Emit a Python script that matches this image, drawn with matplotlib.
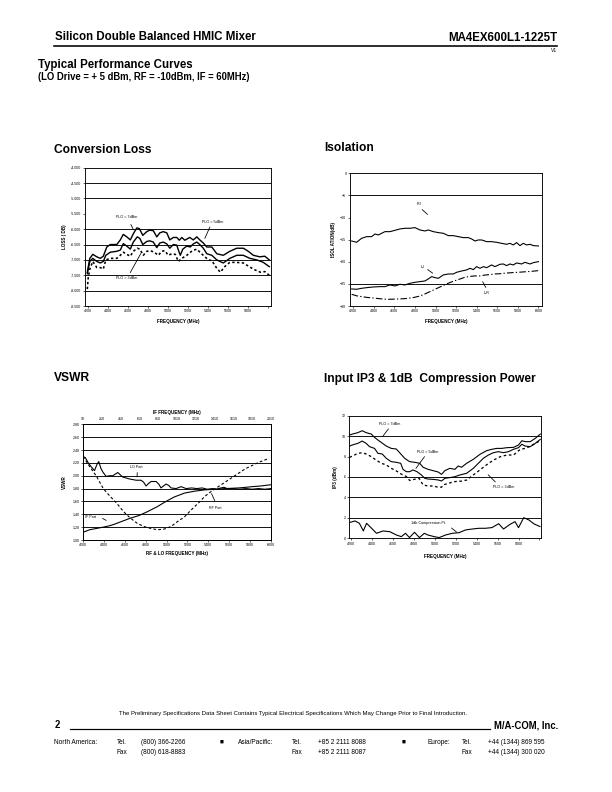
import numpy as np
import matplotlib.pyplot as plt
from matplotlib.lines import Line2D

plt.rcParams['font.family'] = ['Liberation Sans', 'DejaVu Sans']

# ---- Conversion loss (dB) ----
cl_f7 = [4190, 4215, 4245, 4285, 4320, 4350, 4385, 4420, 4485, 4520, 4550, 4585, 4620, 4650, 4685,
         4710, 4745, 4785, 4815, 4850, 4885, 4915, 4950, 4985, 5015, 5050, 5085, 5110, 5135, 5165,
         5215, 5250, 5285, 5315, 5350, 5385, 5435, 5485, 5550, 5615, 5685, 5750, 5800, 5850, 5915,
         5965, 6010]
cl_7 = [-7.40, -6.95, -6.82, -6.90, -6.95, -6.88, -6.58, -6.50, -6.50, -6.35, -6.17, -6.25, -6.35,
        -6.15, -5.96, -5.98, -6.20, -6.08, -6.03, -6.05, -6.25, -6.12, -6.08, -6.12, -6.35, -6.27,
        -6.27, -6.36, -6.27, -6.36, -6.27, -6.35, -6.25, -6.35, -6.45, -6.58, -6.58, -6.80, -6.85,
        -6.72, -6.62, -6.62, -6.72, -6.85, -6.90, -6.88, -7.00]
cl_f5 = [4190, 4215, 4245, 4285, 4320, 4350, 4375, 4420, 4485, 4520, 4550, 4585, 4620, 4650, 4690,
         4715, 4745, 4785, 4815, 4850, 4885, 4915, 4950, 4985, 5015, 5050, 5085, 5105, 5120, 5145,
         5185, 5220, 5250, 5285, 5315, 5350, 5385, 5435, 5485, 5550, 5615, 5685, 5750, 5815, 5885,
         5950, 6010]
cl_5 = [-7.45, -7.05, -6.95, -7.05, -7.10, -7.05, -6.85, -6.75, -6.72, -6.68, -6.47, -6.55, -6.65,
        -6.42, -6.25, -6.30, -6.50, -6.40, -6.38, -6.42, -6.60, -6.45, -6.42, -6.48, -6.62, -6.50,
        -6.52, -6.72, -6.85, -6.65, -6.55, -6.58, -6.48, -6.42, -6.50, -6.62, -6.80, -6.85, -7.00,
        -7.10, -6.95, -6.85, -6.85, -6.95, -7.00, -7.08, -7.22]
cl_f3 = [4190, 4200, 4215, 4245, 4285, 4320, 4350, 4375, 4420, 4485, 4520, 4550, 4585, 4620, 4650,
         4690, 4715, 4750, 4785, 4820, 4860, 4900, 4935, 4965, 5000, 5035, 5070, 5100, 5135, 5185,
         5240, 5285, 5325, 5360, 5400, 5435, 5480, 5520, 5570, 5615, 5680, 5750, 5800, 5850, 5920,
         5965, 6010]
cl_3 = [-7.95, -7.55, -7.30, -7.05, -7.25, -7.25, -7.30, -7.00, -6.95, -6.95, -6.85, -6.75, -6.82,
        -6.88, -6.72, -6.62, -6.65, -6.85, -6.72, -6.70, -6.75, -6.85, -6.72, -6.70, -6.85, -6.80,
        -6.82, -7.05, -6.95, -6.85, -6.70, -6.65, -6.78, -6.88, -7.00, -7.02, -7.25, -7.40, -7.20,
        -7.08, -7.08, -7.10, -7.20, -7.30, -7.40, -7.38, -7.50]

# ---- Isolation (dB) ----
iso_f_ri = [4184, 4232, 4281, 4330, 4378, 4411, 4443, 4476, 4508, 4557, 4605, 4654, 4702, 4751, 4800,
            4848, 4897, 4929, 4978, 5027, 5075, 5124, 5172, 5221, 5270, 5318, 5351, 5383, 5416, 5448,
            5497, 5545, 5594, 5642, 5691, 5723, 5756, 5788, 5821, 5853, 5886, 5918, 5951, 6000]
iso_ri = [-15.30, -15.60, -14.69, -14.32, -14.32, -13.72, -13.94, -13.56, -13.19, -13.19, -12.89,
          -12.58, -12.43, -12.43, -12.28, -12.81, -13.04, -12.81, -13.19, -13.41, -13.56, -14.09,
          -14.09, -14.32, -14.54, -14.54, -14.85, -15.30, -15.07, -15.07, -15.45, -15.45, -15.60,
          -15.83, -16.05, -15.83, -16.20, -15.67, -16.35, -15.83, -16.20, -16.05, -16.35, -16.43]
iso_f_li = [4184, 4232, 4281, 4330, 4394, 4459, 4508, 4557, 4605, 4654, 4702, 4751, 4800, 4848, 4897,
            4929, 4962, 4994, 5027, 5075, 5124, 5172, 5205, 5254, 5302, 5335, 5367, 5399, 5432, 5464,
            5497, 5545, 5578, 5626, 5659, 5691, 5723, 5756, 5788, 5837, 5869, 5918, 5951, 6000]
iso_li = [-26.15, -26.22, -26.00, -25.85, -25.70, -25.62, -25.62, -25.24, -25.47, -25.09, -25.24,
          -24.87, -24.64, -24.49, -24.34, -23.89, -23.36, -23.59, -23.74, -22.98, -22.76, -22.76,
          -22.38, -22.08, -21.85, -21.48, -21.78, -21.10, -21.48, -21.10, -21.33, -20.72, -21.10,
          -20.57, -20.50, -20.87, -20.50, -20.72, -20.27, -20.50, -20.12, -20.50, -20.20, -19.97]
iso_f_lr = [4184, 4232, 4281, 4330, 4394, 4459, 4524, 4589, 4654, 4719, 4783, 4848, 4913, 4978, 5043,
            5108, 5172, 5237, 5286, 5335, 5383, 5432, 5480, 5530, 5580, 5630, 5690, 5750, 5820, 5880,
            5940, 6000]
iso_lr = [-27.35, -27.70, -27.88, -28.05, -28.20, -28.35, -28.50, -28.45, -28.40, -28.30, -28.10,
          -27.75, -27.10, -26.40, -25.70, -25.00, -24.40, -23.90, -23.50, -23.30, -23.20, -23.20,
          -23.00, -22.90, -22.75, -22.70, -22.55, -22.45, -22.35, -22.25, -22.15, -22.00]

# ---- VSWR ----
vs_f_lo = [4200, 4223, 4250, 4278, 4310, 4335, 4351, 4370, 4389, 4421, 4455, 4485, 4533, 4580, 4644,
           4708, 4756, 4780, 4804, 4828, 4852, 4900, 4925, 4947, 4970, 4995, 5020, 5043, 5091, 5139,
           5187, 5240, 5290, 5340, 5390, 5440, 5480, 5520, 5550, 5580, 5640, 5700, 5760, 5820, 5880,
           5940, 6000]
vs_lo = [2.30, 2.28, 2.20, 2.14, 2.08, 2.18, 2.22, 2.12, 2.06, 1.99, 2.00, 2.00, 2.05, 1.98, 1.95,
         1.93, 1.93, 1.90, 1.84, 1.88, 1.91, 1.91, 1.87, 1.81, 1.84, 1.87, 1.85, 1.81, 1.80, 1.83,
         1.80, 1.81, 1.80, 1.81, 1.79, 1.80, 1.79, 1.81, 1.82, 1.80, 1.80, 1.79, 1.80, 1.79, 1.80,
         1.79, 1.80]
vs_f_rf = [4200, 4265, 4330, 4394, 4459, 4524, 4589, 4654, 4719, 4783, 4848, 4913, 4978, 5043, 5108,
           5172, 5237, 5302, 5367, 5432, 5496, 5561, 5626, 5691, 5756, 5821, 5885, 5966]
vs_rf = [2.30, 2.14, 1.99, 1.80, 1.68, 1.57, 1.44, 1.34, 1.26, 1.21, 1.18, 1.16, 1.17, 1.21, 1.29,
         1.36, 1.47, 1.57, 1.68, 1.76, 1.83, 1.90, 1.97, 2.04, 2.11, 2.16, 2.21, 2.26]
vs_f_if = [4200, 4265, 4330, 4394, 4450, 4492, 4573, 4654, 4735, 4816, 4913, 4994, 5075, 5172, 5270,
           5367, 5464, 5560, 5691, 5760, 5821, 5900, 5950, 6000]
vs_if = [1.12, 1.16, 1.18, 1.20, 1.22, 1.24, 1.29, 1.34, 1.38, 1.44, 1.52, 1.60, 1.67, 1.73, 1.76,
         1.78, 1.79, 1.80, 1.81, 1.82, 1.83, 1.84, 1.85, 1.86]

# ---- Input IP3 and 1 dB compression (dBm) ----
ip_f7 = [4185, 4216, 4264, 4306, 4344, 4392, 4424, 4456, 4488, 4536, 4584, 4632, 4664, 4712, 4760,
         4808, 4856, 4888, 4936, 4984, 5032, 5064, 5096, 5144, 5192, 5224, 5256, 5304, 5368, 5432,
         5496, 5544, 5592, 5640, 5688, 5752, 5800, 5832, 5864, 5912, 5960, 6008]
ip_7 = [10.11, 10.21, 10.34, 10.53, 10.34, 10.21, 9.88, 9.62, 9.39, 9.03, 8.80, 8.74, 8.38, 7.83,
        7.50, 7.44, 7.34, 6.95, 6.75, 6.62, 6.49, 6.26, 6.62, 6.85, 6.75, 7.08, 6.95, 7.34, 7.73,
        8.22, 8.58, 8.71, 8.80, 8.80, 8.87, 8.90, 9.13, 9.55, 9.46, 9.46, 9.78, 10.20]
ip_f5 = [4185, 4232, 4264, 4306, 4344, 4376, 4424, 4456, 4498, 4536, 4584, 4632, 4674, 4696, 4728,
         4760, 4792, 4830, 4872, 4904, 4936, 4984, 5032, 5064, 5096, 5144, 5192, 5240, 5304, 5368,
         5416, 5464, 5512, 5560, 5608, 5656, 5704, 5752, 5800, 5832, 5864, 5912, 5960, 6008]
ip_5 = [9.03, 9.20, 9.29, 9.52, 9.29, 8.97, 8.80, 8.32, 8.25, 7.83, 7.50, 7.44, 7.34, 6.75, 6.52,
        6.52, 6.69, 6.52, 6.20, 5.87, 5.80, 5.77, 5.71, 5.61, 5.87, 5.94, 6.03, 6.20, 6.36, 6.85,
        7.34, 7.83, 8.15, 8.38, 8.48, 8.38, 8.48, 8.71, 8.87, 9.20, 9.03, 8.97, 9.29, 9.68]
ip_f3 = [4185, 4232, 4264, 4306, 4344, 4392, 4440, 4488, 4536, 4584, 4632, 4680, 4728, 4760, 4808,
         4850, 4888, 4936, 4984, 5032, 5064, 5080, 5128, 5192, 5256, 5304, 5368, 5432, 5496, 5560,
         5624, 5688, 5752, 5816, 5864, 5912, 5960, 6008]
ip_3 = [7.92, 8.15, 8.31, 8.38, 8.25, 8.00, 7.65, 7.35, 7.18, 6.85, 6.60, 6.28, 6.05, 5.66, 5.78,
        5.87, 5.22, 5.12, 5.12, 5.00, 5.00, 5.22, 5.38, 5.55, 5.60, 5.70, 6.20, 6.70, 7.20, 7.65,
        7.98, 8.15, 8.15, 8.70, 8.80, 9.00, 9.30, 9.55]
cp_f = [4190, 4238, 4279, 4317, 4348, 4396, 4443, 4506, 4569, 4632, 4680, 4720, 4758, 4806, 4853,
        4900, 4932, 4995, 5042, 5105, 5168, 5232, 5295, 5358, 5421, 5484, 5547, 5610, 5657, 5720,
        5767, 5800, 5850, 5900, 5950, 6005]
cp_1db = [1.56, 1.70, 1.47, 0.72, 1.47, 0.98, 0.49, 0.72, 0.65, 0.33, 0.16, 0.49, 0.07, 0.59, 0.07,
          0.49, 0.33, 0.16, 0.07, 0.33, 0.49, 0.55, 0.82, 0.91, 0.98, 0.98, 1.05, 1.43, 0.91, 1.37,
          1.63, 1.04, 2.02, 1.79, 1.40, 1.15]

freq_ticks = list(range(4200, 6001, 200))

fig = plt.figure(figsize=(8.5, 11), dpi=72)


def px_axes(left, top, right, bottom):
    return fig.add_axes([left / 612, 1 - bottom / 792, (right - left) / 612, (bottom - top) / 792])


def ftext(x, y, s, **kw):
    fig.text(x / 612, 1 - y / 792, s, **kw)


def fline(x0, x1, y, lw):
    fig.add_artist(Line2D([x0 / 612, x1 / 612], [1 - y / 792] * 2, lw=lw, color='black'))


def style(ax):
    for sp in ax.spines.values():
        sp.set_linewidth(0.9)
    ax.tick_params(labelsize=3.6, length=2, width=0.6, pad=1.5, direction='out')


def leader(ax, p0, p1):
    ax.annotate('', xy=p1, xytext=p0, arrowprops=dict(arrowstyle='-', lw=0.8, color='black'))


small = dict(fontsize=3.8, ha='center', va='center')
lab = dict(fontsize=4.6, weight='bold')

# header
ftext(55, 37, 'Silicon Double Balanced HMIC Mixer', fontsize=11.5, weight='bold', va='center')
ftext(557, 38, 'MA4EX600L1-1225T', fontsize=11.5, weight='bold', va='center', ha='right')
fline(54, 557, 45.5, 1.6)
ftext(557, 51, 'V1', fontsize=5, ha='right', va='center')
ftext(38, 65, 'Typical Performance Curves', fontsize=11.5, weight='bold', va='center')
ftext(38, 77, '(LO Drive = + 5 dBm, RF = -10dBm, IF = 60MHz)', fontsize=9.5, weight='bold', va='center')

# chart titles
ftext(54, 150, 'Conversion Loss', fontsize=12, weight='bold', va='center')
ftext(324, 148, 'Isolation', fontsize=12, weight='bold', va='center')
ftext(54, 378, 'VSWR', fontsize=12, weight='bold', va='center')
ftext(324, 379, 'Input IP3 & 1dB  Compression Power', fontsize=12, weight='bold', va='center')

# ---- Conversion Loss ----
ax1 = px_axes(85, 167.7, 271, 306)
ax1.plot(cl_f7, cl_7, color='black', lw=1.4)
ax1.plot(cl_f5, cl_5, color='black', lw=1.4)
ax1.plot(cl_f3, cl_3, color='black', lw=1.6, ls=(0, (1.5, 1.5)))
for g in [-4.5, -5.0, -6.0, -6.5, -7.0, -7.5, -8.0]:
    ax1.axhline(g, color='black', lw=0.9)
ax1.set_xlim(4167, 6027)
ax1.set_ylim(-8.5, -4.0)
ax1.set_yticks(np.arange(-8.5, -3.99, 0.5))
ax1.set_yticklabels(['%.3f' % v for v in np.arange(-8.5, -3.99, 0.5)])
ax1.set_xticks(freq_ticks)
ax1.set_xticklabels([str(f) if f < 6000 else '' for f in freq_ticks])
style(ax1)
ax1.set_xlabel('FREQUENCY (MHz)', labelpad=6, **lab)
ax1.set_ylabel('LOSS ( DB)', labelpad=4, **lab)
ax1.text(4584, -5.62, 'PLO = 7dBm', **small)
leader(ax1, (4617, -5.79), (4660, -6.08))
ax1.text(5440, -5.77, 'PLO = 5dBm', **small)
leader(ax1, (5424, -5.87), (5357, -6.36))
ax1.text(4584, -7.60, 'PLO = 3dBm', **small)
leader(ax1, (4610, -7.47), (4734, -6.74))

# ---- Isolation ----
ax2 = px_axes(350, 173.3, 541.7, 306)
ax2.plot(iso_f_ri, iso_ri, color='black', lw=1.1)
ax2.plot(iso_f_li, iso_li, color='black', lw=1.1)
ax2.plot(iso_f_lr, iso_lr, color='black', lw=1.1, ls=(0, (6, 2, 1.2, 2)))
for g in [-5, -25]:
    ax2.axhline(g, color='black', lw=0.9)
ax2.set_xlim(4168, 6032)
ax2.set_ylim(-30, 0)
ax2.set_yticks(range(-30, 1, 5))
ax2.set_xticks(freq_ticks)
style(ax2)
ax2.set_xlabel('FREQUENCY (MHz)', labelpad=6, **lab)
ax2.set_ylabel('ISOL ATION(dB)', labelpad=4, **lab)
ax2.text(4839, -7.0, 'R-I', **small)
leader(ax2, (4855, -7.9), (4936, -9.6))
ax2.text(4875, -21.1, 'L-I', **small)
leader(ax2, (4907, -21.5), (4988, -22.85))
ax2.text(5497, -27.0, 'L-R', **small)
leader(ax2, (5497, -26.2), (5449, -24.1))

# ---- VSWR ----
ax3 = px_axes(83, 424.3, 271, 540)
ax3.plot(vs_f_lo, vs_lo, color='black', lw=1.1)
ax3.plot(vs_f_if, vs_if, color='black', lw=1.1)
ax3.plot(vs_f_rf, vs_rf, color='black', lw=1.1, ls=(0, (2.5, 2)))
for g in np.arange(1.2, 2.61, 0.2):
    ax3.axhline(g, color='black', lw=0.9)
ax3.set_xlim(4200, 6000)
ax3.set_ylim(1.0, 2.8)
vs_ticks = np.arange(1.0, 2.81, 0.2)
ax3.set_yticks(vs_ticks)
ax3.set_yticklabels(['%.2f' % v for v in vs_ticks])
ax3.set_xticks(freq_ticks)
style(ax3)
ax3.set_xlabel('RF & LO FREQUENCY (MHz)', labelpad=4, **lab)
ax3.set_ylabel('VSWR', labelpad=6, **lab)
top = ax3.twiny()
top.set_xlim(10, 2010)
top.set_xticks(range(10, 2011, 200))
style(top)
top.tick_params(length=0, pad=3)
top.set_xlabel('IF FREQUENCY (MHz)', labelpad=3, **lab)
ax3.text(4714, 2.14, 'LO Port', **small)
leader(ax3, (4720, 2.08), (4717, 1.95))
ax3.text(5470, 1.50, 'RF Port', **small)
leader(ax3, (5470, 1.58), (5423, 1.75))
ax3.text(4274, 1.36, 'IF Port', **small)
leader(ax3, (4370, 1.35), (4440, 1.29))

# ---- Input IP3 ----
ax4 = px_axes(349, 415.7, 541, 538.3)
ax4.plot(ip_f7, ip_7, color='black', lw=1.1)
ax4.plot(ip_f5, ip_5, color='black', lw=1.1)
ax4.plot(ip_f3, ip_3, color='black', lw=1.3, ls=(0, (2, 2)))
ax4.plot(cp_f, cp_1db, color='black', lw=1.1)
for g in [2, 4, 6, 10]:
    ax4.axhline(g, color='black', lw=0.9)
ax4.set_xlim(4180, 6015)
ax4.set_ylim(0, 12)
ax4.set_yticks(range(0, 13, 2))
ax4.set_xticks(freq_ticks)
ax4.set_xticklabels([str(f) if f < 6000 else '' for f in freq_ticks])
style(ax4)
ax4.set_xlabel('FREQUENCY (MHz)', labelpad=8, **lab)
ax4.set_ylabel('IP3 (dBm)', labelpad=4, **lab)
ax4.text(4568, 11.18, 'PLO = 7dBm', **small)
leader(ax4, (4568, 10.86), (4488, 9.78))
ax4.text(4935, 8.47, 'PLO = 5dBm', **small)
leader(ax4, (4913, 8.15), (4808, 6.68))
ax4.text(5655, 5.05, 'PLO = 3dBm', **small)
leader(ax4, (5592, 5.38), (5496, 6.36))
ax4.text(4935, 1.47, '1db Compression Pt.', **small)
leader(ax4, (5144, 1.13), (5223, 0.49))

# footer
ftext(293, 714, 'The Preliminary Specifications Data Sheet Contains Typical Electrical Specifications '
      'Which May Change Prior to Final Introduction.', fontsize=6, ha='center', va='center')
ftext(55, 725, '2', fontsize=9.5, weight='bold', va='center')
fline(70, 490, 729, 1.2)
ftext(558, 725, 'M/A-COM, Inc.', fontsize=9.5, weight='bold', va='center', ha='right')
row = dict(fontsize=6.5, va='center')
ftext(54, 742, 'North America:', **row)
ftext(117, 742, 'Tel.', **row)
ftext(141, 742, '(800) 366-2266', **row)
ftext(220, 742, '\u25a0', **row)
ftext(238, 742, 'Asia/Pacific:', **row)
ftext(292, 742, 'Tel.', **row)
ftext(318, 742, '+85 2 2111 8088', **row)
ftext(402, 742, '\u25a0', **row)
ftext(428, 742, 'Europe:', **row)
ftext(462, 742, 'Tel.', **row)
ftext(488, 742, '+44 (1344) 869 595', **row)
ftext(117, 752, 'Fax', **row)
ftext(141, 752, '(800) 618-8883', **row)
ftext(292, 752, 'Fax', **row)
ftext(318, 752, '+85 2 2111 8087', **row)
ftext(462, 752, 'Fax', **row)
ftext(488, 752, '+44 (1344) 300 020', **row)

fig.savefig('out.png', dpi=72)
